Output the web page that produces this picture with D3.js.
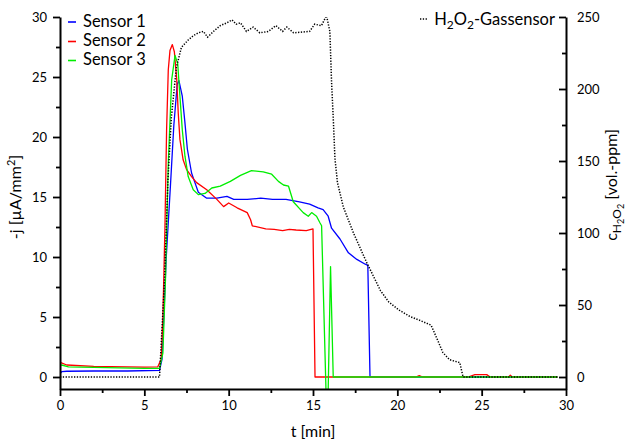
<!DOCTYPE html>
<html>
<head>
<meta charset="utf-8">
<script src="https://cdn.jsdelivr.net/npm/d3@7"></script>
<style>
  body { margin: 0; background: #fff; }
  svg { display: block; font-family: Lato, "Open Sans", sans-serif; }
</style>
</head>
<body>
<svg id="chart" width="632" height="445"></svg>
<script>
// Sensor 1 (blue)
const s1T = [0, 0.1, 0.4, 2, 4, 5.9, 6.05, 6.3, 6.55, 6.75, 6.95, 7.05, 7.25, 7.4, 7.55, 7.8, 8.0, 8.2, 8.7, 9.3, 9.9, 10.3, 11.1, 11.9, 12.6, 13.4, 14.2, 14.8, 15.3, 15.6, 15.9, 16.1, 16.6, 17.1, 17.6, 18.1, 18.25, 18.38, 29.5];
const s1V = [0.25, 0.45, 0.48, 0.5, 0.5, 0.55, 1.5, 10, 16, 21, 24.4, 24.7, 23.4, 21.3, 19, 17, 16.2, 15.4, 14.9, 14.9, 15.05, 14.8, 14.8, 14.9, 14.8, 14.8, 14.6, 14.4, 14.1, 13.95, 13.4, 12.4, 11.5, 10.35, 9.8, 9.4, 9.3, 0, 0];

// Sensor 2 (red)
const s2T = [0, 0.05, 0.4, 2, 5.0, 5.8, 6.0, 6.1, 6.22, 6.32, 6.42, 6.52, 6.66, 6.78, 6.92, 7.01, 7.11, 7.3, 7.5, 7.8, 8.1, 8.7, 9.3, 9.7, 10.0, 10.5, 11.1, 11.3, 11.4, 12.2, 12.7, 13.2, 13.6, 14.0, 14.6, 15.0, 15.12, 21.1, 21.3, 21.5, 24.2, 24.6, 25.3, 25.5, 26.6, 26.7, 26.8, 29.5];
const s2V = [1.25, 1.2, 1.0, 0.88, 0.82, 0.85, 1.5, 5, 12.3, 20.6, 25.6, 27.2, 27.7, 27.1, 24.8, 22, 19.8, 18.1, 17.3, 16.7, 16.2, 15.6, 14.8, 14.2, 14.5, 14.1, 13.7, 13.1, 12.6, 12.35, 12.3, 12.2, 12.3, 12.25, 12.2, 12.35, 0, 0, 0.12, 0, 0, 0.2, 0.2, 0, 0, 0.15, 0, 0];

// Sensor 3 (green)
const s3T = [0, 0.1, 0.5, 2, 5, 5.9, 6.1, 6.25, 6.42, 6.62, 6.82, 6.98, 7.11, 7.25, 7.41, 7.6, 7.9, 8.2, 8.6, 9.0, 9.5, 10.1, 10.7, 11.35, 12.05, 12.55, 12.95, 13.25, 13.55, 13.83, 14.42, 14.72, 14.92, 15.21, 15.41, 15.51, 15.77, 15.9, 16.04, 16.2, 29.5];
const s3V = [0.95, 1.0, 0.85, 0.8, 0.72, 0.72, 2, 8, 17.8, 24.75, 26.8, 26.1, 23.4, 20.6, 18.4, 16.7, 15.6, 15.2, 15.3, 15.75, 15.9, 16.3, 16.8, 17.2, 17.1, 16.9, 16.3, 16.0, 15.9, 14.6, 13.7, 13.4, 13.7, 13.4, 12.85, 12.6, -1.1, -1.1, 9.2, 0, 0];

// H2O2 gas sensor (black dotted, right axis, vol.-ppm)
const gasT = [0, 5.9, 6.2, 6.4, 6.6, 6.9, 7.2, 7.6, 7.9, 8.2, 8.5, 8.75, 9.1, 9.5, 9.9, 10.2, 10.45, 10.7, 11.05, 11.45, 11.85, 12.35, 12.8, 13.2, 13.45, 13.85, 14.8, 15.1, 15.5, 15.8, 16.0, 16.1, 16.2, 16.3, 16.45, 16.8, 17.4, 18.2, 18.5, 19.0, 19.5, 20.1, 20.75, 21.3, 22.0, 22.3, 22.7, 23.1, 23.7, 23.9, 29.5];
const gasV = [0, 0, 68, 137, 180, 215, 229, 234, 237, 239, 240, 236, 240, 244, 246, 248, 245, 246, 240, 243, 239, 240, 244, 240, 243, 239, 240, 245, 244, 251, 240, 205, 180, 152, 135, 118, 100, 79, 72, 60, 52, 46.5, 42, 39.5, 36, 28, 17, 12, 10, 0, 0];

const sensorNames = ["Sensor 1", "Sensor 2", "Sensor 3"];
const sensorColors = ["#0000ff", "#ff0000", "#00ee00"];

const xTicks = [0, 5, 10, 15, 20, 25, 30];
const xMinor = [2.5, 7.5, 12.5, 17.5, 22.5, 27.5];
const yLTicks = [0, 5, 10, 15, 20, 25, 30];
const yLMinor = [2.5, 7.5, 12.5, 17.5, 22.5, 27.5];
const yRTicks = [0, 50, 100, 150, 200, 250];
const yRMinor = [25, 75, 125, 175, 225];

const svg = d3.select("#chart");

const x = d3.scaleLinear().domain([0, 30]).range([60, 566]);
const yL = d3.scaleLinear().domain([-1, 30]).range([389, 17]);
const yR = d3.scaleLinear().domain([-250 / 30, 250]).range([389, 17]);

svg.append("clipPath").attr("id", "plot-clip")
  .append("rect").attr("x", 60).attr("y", 17).attr("width", 506).attr("height", 372);

const plot = svg.append("g").attr("clip-path", "url(#plot-clip)");

const sensors = [[s1T, s1V], [s2T, s2V], [s3T, s3V]];
const lineL = d3.line().x(d => x(d[0])).y(d => yL(d[1]));
const lineR = d3.line().x(d => x(d[0])).y(d => yR(d[1]));

sensors.forEach(([ts, vs], i) => {
  plot.append("path")
    .datum(ts.map((t, k) => [t, vs[k]]))
    .attr("d", lineL)
    .attr("fill", "none")
    .attr("stroke", sensorColors[i])
    .attr("stroke-width", 1.3)
    .attr("stroke-linejoin", "round");
});

plot.append("path")
  .datum(gasT.map((t, k) => [t, gasV[k]]))
  .attr("d", lineR)
  .attr("fill", "none")
  .attr("stroke", "#000")
  .attr("stroke-width", 1.5)
  .attr("stroke-dasharray", "1.3,1.5");

// axes
function styleAxis(g) {
  g.selectAll("path.domain").attr("stroke-width", 2);
  g.selectAll(".tick line").attr("stroke-width", 1.8);
  g.selectAll(".tick text").attr("font-size", 13).attr("font-family", "Lato, sans-serif").attr("fill", "#000");
}

const gx = svg.append("g").attr("transform", "translate(0,389)")
  .call(d3.axisBottom(x).tickValues(xTicks).tickSize(7).tickSizeOuter(0).tickPadding(5));
styleAxis(gx);
svg.append("g").attr("transform", "translate(0,389)")
  .call(d3.axisBottom(x).tickValues(xMinor).tickSize(4).tickFormat(""))
  .call(g => g.select(".domain").remove())
  .call(styleAxis);

const gl = svg.append("g").attr("transform", "translate(60,0)")
  .call(d3.axisLeft(yL).tickValues(yLTicks).tickSize(7).tickSizeOuter(0).tickPadding(6));
styleAxis(gl);
svg.append("g").attr("transform", "translate(60,0)")
  .call(d3.axisLeft(yL).tickValues(yLMinor).tickSize(4).tickFormat(""))
  .call(g => g.select(".domain").remove())
  .call(styleAxis);

const gr = svg.append("g").attr("transform", "translate(566,0)")
  .call(d3.axisRight(yR).tickValues(yRTicks).tickSizeInner(-7).tickSizeOuter(0).tickPadding(11));
styleAxis(gr);
svg.append("g").attr("transform", "translate(566,0)")
  .call(d3.axisRight(yR).tickValues(yRMinor).tickSizeInner(-4).tickSizeOuter(0).tickFormat(""))
  .call(g => g.select(".domain").remove())
  .call(styleAxis);

// axis titles
svg.append("text")
  .attr("x", 313).attr("y", 437)
  .attr("text-anchor", "middle").attr("font-size", 16)
  .text("t [min]");

const leftTitle = svg.append("text")
  .attr("transform", "translate(21,197) rotate(-90)")
  .attr("text-anchor", "middle").attr("font-size", 16);
leftTitle.append("tspan").text("-j [µA/mm");
leftTitle.append("tspan").attr("font-size", 11).attr("dy", -6).text("2");
leftTitle.append("tspan").attr("dy", 6).text("]");

const rightTitle = svg.append("text")
  .attr("transform", "translate(617,185) rotate(-90)")
  .attr("text-anchor", "middle").attr("font-size", 16);
rightTitle.append("tspan").text("c");
rightTitle.append("tspan").attr("font-size", 12).attr("dy", 4).text("H");
rightTitle.append("tspan").attr("font-size", 9).attr("dy", 3).text("2");
rightTitle.append("tspan").attr("font-size", 12).attr("dy", -3).text("O");
rightTitle.append("tspan").attr("font-size", 9).attr("dy", 3).text("2");
rightTitle.append("tspan").attr("dy", -7).text(" [vol.-ppm]");

// legend, sensors
const legBase = [26.5, 46, 65];
sensorNames.forEach((name, i) => {
  svg.append("line")
    .attr("x1", 68).attr("x2", 76)
    .attr("y1", legBase[i] - 4.5).attr("y2", legBase[i] - 4.5)
    .attr("stroke", sensorColors[i]).attr("stroke-width", 1.6);
  svg.append("text")
    .attr("x", 83).attr("y", legBase[i])
    .attr("font-size", 16.5)
    .text(name);
});

// legend, gas sensor
svg.append("line")
  .attr("x1", 420).attr("x2", 428).attr("y1", 19).attr("y2", 19)
  .attr("stroke", "#000").attr("stroke-width", 1.5).attr("stroke-dasharray", "1.3,1.5");
const gasLabel = svg.append("text")
  .attr("x", 555).attr("y", 25)
  .attr("text-anchor", "end").attr("font-size", 16.5);
gasLabel.append("tspan").text("H");
gasLabel.append("tspan").attr("font-size", 12).attr("dy", 4).text("2");
gasLabel.append("tspan").attr("dy", -4).text("O");
gasLabel.append("tspan").attr("font-size", 12).attr("dy", 4).text("2");
gasLabel.append("tspan").attr("dy", -4).text("-Gassensor");
</script>
</body>
</html>
